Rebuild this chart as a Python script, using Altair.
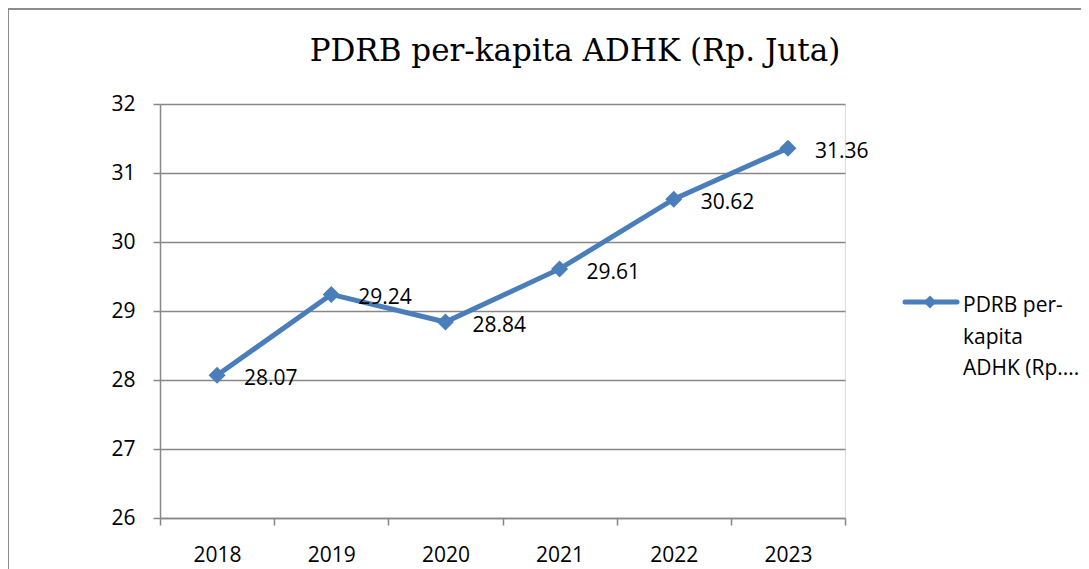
import altair as alt
import pandas as pd

years = ["2018", "2019", "2020", "2021", "2022", "2023"]
values = [28.07, 29.24, 28.84, 29.61, 30.62, 31.36]
labels = ["28.07", "29.24", "28.84", "29.61", "30.62", "31.36"]
y_ticks = [26, 27, 28, 29, 30, 31, 32]
title_text = "PDRB per-kapita ADHK (Rp. Juta)"
legend_lines = ["PDRB per-", "kapita", "ADHK (Rp...."]

df = pd.DataFrame({"Tahun": years, "Nilai": values, "Label": labels})

BLUE = "#4A7EBB"
GREY = "#878787"
LABEL_FONT = "Open Sans"

x_enc = alt.X(
    "Tahun:O",
    bandPosition=0.5,
    scale=alt.Scale(type="band", paddingInner=0, paddingOuter=0),
    axis=alt.Axis(
        title=None, labelAngle=0, grid=False, tickBand="extent",
        domainColor=GREY, domainWidth=1.5, tickColor=GREY, tickWidth=1.5,
        tickSize=7, labelPadding=19, labelFont=LABEL_FONT, labelFontSize=21,
        labelColor="#000000",
    ),
)
y_enc = alt.Y(
    "Nilai:Q",
    scale=alt.Scale(domain=[26, 32], nice=False, zero=False),
    axis=alt.Axis(
        title=None, values=y_ticks, format="d", grid=True, gridColor=GREY, gridWidth=1.5,
        domainColor=GREY, domainWidth=1.5, tickColor=GREY, tickWidth=1.5,
        tickSize=7, labelPadding=18, labelFont=LABEL_FONT, labelFontSize=21,
        labelColor="#000000",
    ),
)

base = alt.Chart(df)

line = base.mark_line(color=BLUE, strokeWidth=5).encode(x=x_enc, y=y_enc)
pts = base.mark_point(shape="diamond", filled=True, color=BLUE, size=290, opacity=1).encode(
    x=alt.X("Tahun:O", bandPosition=0.5), y="Nilai:Q")
txt = base.mark_text(align="left", baseline="alphabetic", dx=27, dy=10,
                     font=LABEL_FONT, fontSize=21, color="#000000").encode(
    x=alt.X("Tahun:O", bandPosition=0.5), y="Nilai:Q", text="Label:N")

one = alt.Chart(alt.Data(values=[{"a": 1}]))

border = one.mark_rect(fillOpacity=0, stroke="#8C8C8C", strokeWidth=2).encode(
    x=alt.value(-152), x2=alt.value(960), y=alt.value(-95), y2=alt.value(480))

title = one.mark_text(align="center", baseline="alphabetic", font="DejaVu Serif",
                      fontSize=31, color="#000000").encode(
    x=alt.value(415), y=alt.value(-43), text=alt.value(title_text))

leg_line = one.mark_rule(color=BLUE, strokeWidth=5, strokeCap="round").encode(
    x=alt.value(745), x2=alt.value(797), y=alt.value(198))
leg_pt = one.mark_point(shape="diamond", filled=True, color=BLUE, size=170, opacity=1).encode(
    x=alt.value(770), y=alt.value(198))
leg_txt = one.mark_text(align="left", baseline="alphabetic", font=LABEL_FONT,
                        fontSize=21, lineHeight=31.5, color="#000000").encode(
    x=alt.value(803), y=alt.value(208), text=alt.value(legend_lines))

chart = alt.layer(border, line, pts, txt, title, leg_line, leg_pt, leg_txt).properties(
    width=685, height=414,
    padding={"left": 152, "top": 96, "right": 236, "bottom": 51},
    autosize=alt.AutoSizeParams(type="none"),
).configure_view(strokeWidth=0).configure(background="white")

chart.save("out.html", embed_options={"renderer": "svg", "actions": False})
